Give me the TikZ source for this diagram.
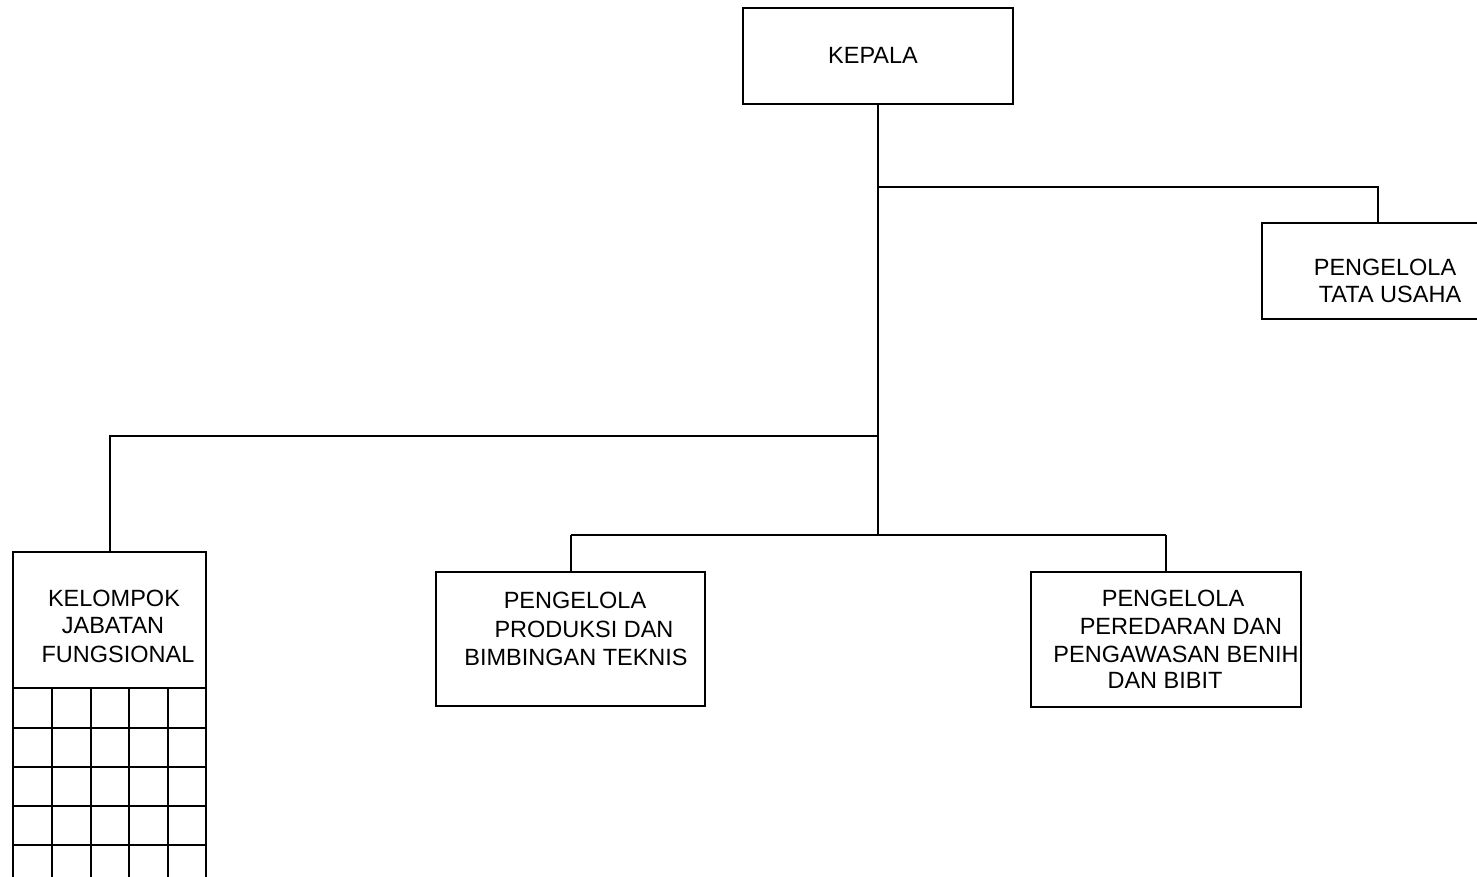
\documentclass[tikz,border=0pt]{standalone}
\usepackage{fontspec}
\setmainfont{Liberation Sans}
\begin{document}
\begin{tikzpicture}[x=1pt,y=-1pt,
  box/.style={draw=black,line width=2.6pt,fill=none,inner sep=0pt,outer sep=0pt,anchor=north west},
  conn/.style={draw=black,line width=2.6pt},
  grid line/.style={draw=black,line width=2.6pt},
  lbl/.style={font=\fontsize{23.5}{28}\selectfont,anchor=base,inner sep=0pt}]
\useasboundingbox (0,0) rectangle (1477,876);
\clip (0,0) rectangle (1477,876);
\fill[white] (0,0) rectangle (1477,876);
% boxes
\node[box,minimum width=270pt,minimum height=96pt] (kepala) at (743,8) {};
\node[box,minimum width=260pt,minimum height=96pt] (tu) at (1262,223) {};
\node[box,minimum width=193pt,minimum height=136pt] (kjf) at (13,552) {};
\node[box,minimum width=269pt,minimum height=134pt] (prod) at (436,572) {};
\node[box,minimum width=270pt,minimum height=135pt] (per) at (1031,572) {};
% grid below KJF
\draw[grid line] (kjf.south west) -- (13,890);
\draw[grid line] (kjf.south east) -- (206,890);
\foreach \x in {52,91,129,168} \draw[grid line] (\x,688) -- (\x,890);
\foreach \y in {728,767,806,845} \draw[grid line] (13,\y) -- (206,\y);
% connectors
\coordinate (j1) at (878,187);
\coordinate (j2) at (878,436);
\coordinate (j3) at (878,535);
\draw[conn] (kepala.south -| j1) -- (j3);
\draw[conn] (j1) -- (1378,187) -- (tu.north -| 1378,0);
\draw[conn] (j2) -- (110,436) -- (kjf.north -| 110,0);
\draw[conn] (571,535) -- (1166,535);
\draw[conn] (571,535) -- (prod.north -| 571,0);
\draw[conn] (1166,535) -- (per.north -| 1166,0);
% labels
\node[lbl] (t1) at (873,63) {KEPALA};
\node[lbl] (t2) at (1385,275) {PENGELOLA};
\node[lbl] (t3) at (1390,302) {TATA USAHA};
\node[lbl] (t4) at (114,606) {KELOMPOK};
\node[lbl] (t5) at (113,633) {JABATAN};
\node[lbl] (t6) at (118,662) {FUNGSIONAL};
\node[lbl] (t7) at (575,608) {PENGELOLA};
\node[lbl] (t8) at (584,637) {PRODUKSI DAN};
\node[lbl] (t9) at (576,665) {BIMBINGAN TEKNIS};
\node[lbl] (t10) at (1173,606) {PENGELOLA};
\node[lbl] (t11) at (1181,634) {PEREDARAN DAN};
\node[lbl] (t12) at (1176,662) {PENGAWASAN BENIH};
\node[lbl] (t13) at (1165,688) {DAN BIBIT};
\end{tikzpicture}
\end{document}
